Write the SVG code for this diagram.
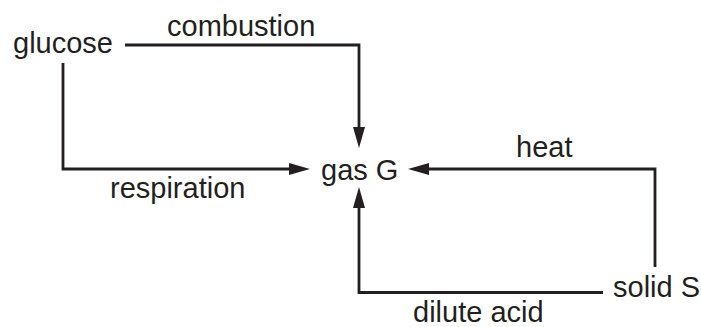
<svg xmlns="http://www.w3.org/2000/svg" width="701" height="327" viewBox="0 0 701 327">
<style>
text{font-family:"Liberation Sans",Arial,sans-serif;font-size:29px;fill:#231f20}
.c{fill:none;stroke:#231f20;stroke-width:2.8}
</style>
<defs>
<marker id="ah" markerUnits="userSpaceOnUse" markerWidth="22" markerHeight="13" refX="0" refY="6" orient="auto" overflow="visible">
<path d="M0,0 L21,6 L0,12 z" fill="#231f20"/>
</marker>
</defs>
<rect width="701" height="327" fill="#ffffff"/>
<g id="connectors">
<path class="c" d="M125 45 H359 V127" marker-end="url(#ah)"/>
<path class="c" d="M63 63 V169 H289" marker-end="url(#ah)"/>
<path class="c" d="M655 267 V169 H429" marker-end="url(#ah)"/>
<path class="c" d="M603 292.5 H359 V208" marker-end="url(#ah)"/>
</g>
<g id="glucose"><text x="13" y="53">glucose</text></g>
<g id="gasG"><text x="321" y="180">gas G</text></g>
<g id="solidS"><text x="613" y="297">solid S</text></g>
<g id="labels">
<text x="167" y="36">combustion</text>
<text x="110" y="198">respiration</text>
<text x="516" y="157">heat</text>
<text x="413" y="322">dilute acid</text>
</g>
</svg>
